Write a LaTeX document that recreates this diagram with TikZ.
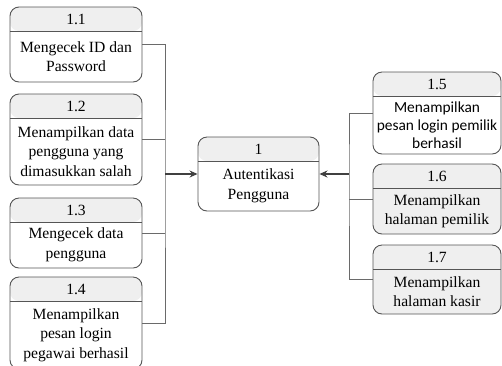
\documentclass[tikz,border=0pt]{standalone}
\usepackage{fontspec}
\setmainfont{Liberation Serif}
\newfontfamily\calibrifont{Carlito}
\usetikzlibrary{arrows.meta}
\definecolor{linegray}{HTML}{555555}
\definecolor{conngray}{HTML}{6A6A6A}
\definecolor{arrgray}{HTML}{404040}
\definecolor{headgray}{HTML}{EFEFEF}
\tikzset{
  procbox/.style={draw=linegray, line width=0.9pt, rounded corners=9pt, inner sep=0pt,
    path picture={
      \fill[headgray] (path picture bounding box.north west) rectangle ([yshift=-24pt]path picture bounding box.north east);
      \draw[linegray, line width=0.9pt] ([yshift=-24pt]path picture bounding box.north west) -- ([yshift=-24pt]path picture bounding box.north east);
    }},
  numtext/.style={inner sep=0pt, font=\fontsize{15.6}{19.5}\selectfont},
  bodytext/.style={inner sep=0pt, align=center, font=\fontsize{15.6}{19.5}\selectfont},
  sansbody/.style={font=\calibrifont\fontsize{15.4}{18}\selectfont},
  conn/.style={draw=conngray, line width=0.8pt},
  arr/.style={draw=arrgray, line width=1.4pt, -{Stealth[length=8pt,width=7pt]}},
}
\newcommand\procbox[9][]{%
  \node[procbox, fill=#7, minimum width={#5-#3}, minimum height={#6-#4}] (#2) at ({(#3+#5)/2},{(#4+#6)/2}) {};
  \node[numtext] (#2n) at ({(#3+#5)/2},{#4+12.5}) {#8};
  \node[bodytext,#1] (#2b) at ({(#3+#5)/2},{(#4+24+#6)/2}) {#9};
}
\begin{document}
\begin{tikzpicture}[x=1pt,y=-1pt]
\useasboundingbox (0,0) rectangle (502,365);
\clip (0,0) rectangle (502,365);
\fill[white] (0,0) rectangle (502,365);
% left boxes
\procbox{p11}{10}{7}{142}{82}{white}{1.1}{Mengecek ID dan\\Password}
\procbox{p12}{10}{94}{142}{185}{white}{1.2}{Menampilkan data\\pengguna yang\\dimasukkan salah}
\procbox{p13}{10}{198}{142}{268}{white}{1.3}{Mengecek data\\pengguna}
\procbox{p14}{10}{277}{142}{369}{white}{1.4}{Menampilkan\\pesan login\\pegawai berhasil}
% centre
\procbox{p1}{198}{137}{319}{211}{white}{1}{Autentikasi\\Pengguna}
% right boxes
\procbox[sansbody]{p15}{373}{72}{501}{154}{white}{1.5}{Menampilkan\\pesan login pemilik\\berhasil}
\procbox{p16}{373}{164}{501}{234}{headgray}{1.6}{Menampilkan\\halaman pemilik}
\procbox{p17}{373}{245}{501}{314}{headgray}{1.7}{Menampilkan\\halaman kasir}
% junctions
\coordinate (jl) at (165,174);
\coordinate (jr) at (349,174);
\draw[conn] (p11.east) -| (jl) |- (p14.east);
\draw[conn] (p12.east) -- (p12.east -| jl);
\draw[conn] (p13.east) -- (p13.east -| jl);
\draw[conn] (p15.west) -| (jr) |- (p17.west);
\draw[conn] (p16.west) -- (p16.west -| jr);
\draw[arr] (jl) -- (p1.west);
\draw[arr] (jr) -- (p1.east);
\end{tikzpicture}
\end{document}
